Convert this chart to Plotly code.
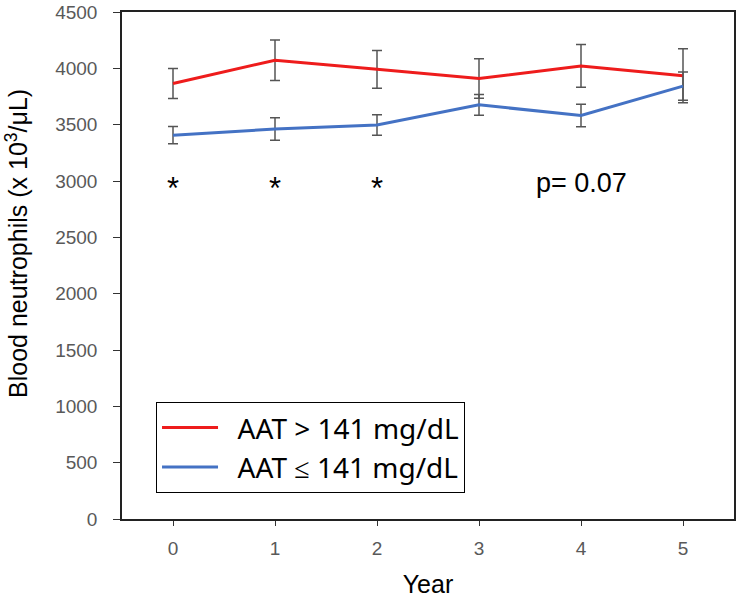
import plotly.graph_objects as go

years = [0, 1, 2, 3, 4, 5]
high_aat = [3866, 4072, 3991, 3910, 4021, 3934]
high_err = [133, 180, 168, 175, 190, 240]
low_aat = [3407, 3461, 3497, 3676, 3581, 3842]
low_err = [77, 100, 92, 92, 100, 125]
series_names = ["AAT > 141 mg/dL", "AAT ≤ 141 mg/dL"]
star_years = [0, 1, 2]
star_level = 2905
p_text = "p= 0.07"
p_year = 4
p_level = 2982
y_ticks = [0, 500, 1000, 1500, 2000, 2500, 3000, 3500, 4000, 4500]
y_title = "Blood neutrophils (x 10<sup>3</sup>/μL)"
x_title = "Year"

pad = "\u00a0\u00a0"

fig = go.Figure()
fig.add_trace(go.Scatter(
    x=years, y=high_aat, mode="lines", name=pad + series_names[0],
    line=dict(color="#ee1c1c", width=3),
    error_y=dict(type="data", array=high_err, color="#555555", thickness=1.5, width=5),
))
fig.add_trace(go.Scatter(
    x=years, y=low_aat, mode="lines", name=pad + series_names[1],
    line=dict(color="#4472c4", width=3),
    error_y=dict(type="data", array=low_err, color="#555555", thickness=1.5, width=5),
))
fig.add_trace(go.Scatter(
    x=star_years, y=[star_level] * len(star_years), mode="text",
    text=["*"] * len(star_years), showlegend=False,
    textfont=dict(family="Liberation Sans, Arial", size=31, color="black"),
    hoverinfo="skip",
))
fig.add_annotation(
    x=p_year, y=p_level, text=p_text, showarrow=False,
    font=dict(family="Liberation Sans, Arial", size=27, color="black"),
    xanchor="center", yanchor="middle",
)
fig.add_annotation(
    xref="paper", yref="paper", x=-0.172, y=0.544, text=y_title, showarrow=False,
    textangle=-90, xanchor="center", yanchor="middle",
    font=dict(family="Liberation Sans, Arial", size=25, color="black"),
)

tick_font = dict(family="Liberation Sans, Arial", size=19, color="#595959")
title_font = dict(family="Liberation Sans, Arial", size=25, color="black")

fig.update_layout(
    width=736, height=599,
    margin=dict(l=122, r=2, t=12, b=80, autoexpand=False),
    paper_bgcolor="white", plot_bgcolor="white",
    showlegend=True,
    legend=dict(
        x=0.0556, y=0.231, xanchor="left", yanchor="top",
        bordercolor="black", borderwidth=1, bgcolor="white",
        font=dict(family="Noto Sans", size=28, color="black"),
        itemwidth=56,
    ),
    xaxis=dict(
        range=[-0.5, 5.5], tickvals=years, ticks="outside", ticklen=5,
        tickcolor="#333333", showline=True, linecolor="#222222", linewidth=1.5,
        mirror=True, showgrid=False, zeroline=False, automargin=False,
        tickfont=tick_font, ticklabelstandoff=6,
        title=dict(text=x_title, font=title_font, standoff=18),
    ),
    yaxis=dict(
        range=[0, 4500], tickvals=y_ticks, ticks="outside", ticklen=7,
        tickcolor="#333333", showline=True, linecolor="#222222", linewidth=1.5,
        mirror=True, showgrid=False, zeroline=False, automargin=False,
        tickfont=tick_font, ticklabelstandoff=12,
    ),
)

fig.write_html(
    "out.html",
    config={"displayModeBar": False},
    post_script=(
        "document.documentElement.style.overflow='hidden';"
        "document.body.style.overflow='hidden';"
        "document.body.style.margin='0';document.body.style.padding='0';"
    ),
)
